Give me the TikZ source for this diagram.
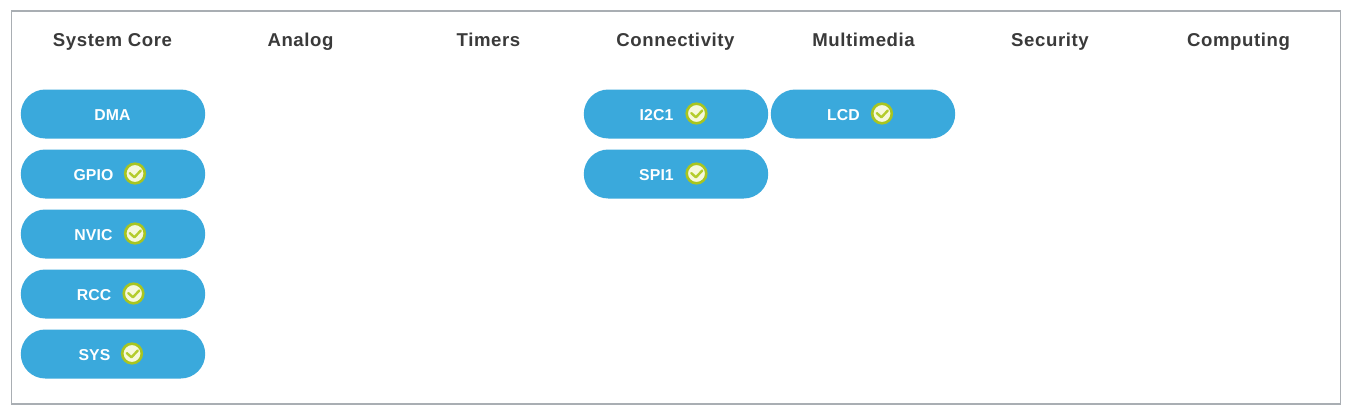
\documentclass[tikz,border=0pt]{standalone}
\usepackage{fontspec}
\setmainfont{Liberation Sans}
\usetikzlibrary{shapes.misc}
\definecolor{pillblue}{HTML}{3AA9DC}
\definecolor{framegray}{HTML}{A9AEB3}
\definecolor{headink}{HTML}{3A3A3A}
\definecolor{ringgreen}{HTML}{A8C520}
\definecolor{okfill}{HTML}{F6F8DC}
\definecolor{okcheck}{HTML}{B4CC2C}
\newfontfamily\headfont[LetterSpace=3.2]{Liberation Sans}
\newfontfamily\pillfont[LetterSpace=0.6]{Liberation Sans}
\tikzset{
  frameline/.style={draw=framegray,line width=1.3pt,fill=white,outer sep=0pt},
  head/.style={font=\headfont\fontsize{18.6}{20}\selectfont\bfseries,text=headink,inner sep=0pt,anchor=base},
  pill/.style={rounded rectangle,fill=pillblue,draw=none,minimum width=184.4pt,minimum height=49pt,inner sep=0pt,outer sep=0pt},
  pilltext/.style={font=\pillfont\fontsize{15.8}{18}\selectfont\bfseries,text=white,inner sep=0pt,anchor=base},
  okring/.style={circle,fill=okfill,draw=ringgreen,line width=2.6pt,minimum size=19.6pt,inner sep=0pt,outer sep=0pt},
  okmark/.style={draw=okcheck,line width=2.4pt,line cap=round,line join=round},
}
\newcommand{\okicon}[2]{%
  \node[okring] (#1) at (#2) {};
  \draw[okmark] ([shift={(-5.2pt,0.4pt)}]#1.center) -- ([shift={(-0.6pt,-3.8pt)}]#1.center) -- ([shift={(5.8pt,3pt)}]#1.center);
}
\begin{document}
\begin{tikzpicture}[x=1pt,y=-1pt]
\useasboundingbox (0,0) rectangle (1352,416);
\node[draw=none,fill=white,minimum width=1352pt,minimum height=416pt,inner sep=0pt,outer sep=0pt,anchor=north west] (page) at (0,0) {};
\node[frameline,minimum width=1329pt,minimum height=393pt,inner sep=0pt,anchor=north west] (frame) at (11.3,11) {};
\node[head] (h1) at (112.5,46.5) {System Core};
\node[head] (h2) at (300.5,46.5) {Analog};
\node[head] (h3) at (488.5,46.5) {Timers};
\node[head] (h4) at (675.5,46.5) {Connectivity};
\node[head] (h5) at (863.5,46.5) {Multimedia};
\node[head] (h6) at (1050,46.5) {Security};
\node[head] (h7) at (1238.5,46.5) {Computing};
\node[pill] (dma) at (113,114) {};
\node[pill] (gpio) at (113,174) {};
\node[pill] (nvic) at (113,234) {};
\node[pill] (rcc) at (113,294) {};
\node[pill] (sys) at (113,354) {};
\node[pill] (i2c) at (676,114) {};
\node[pill] (spi) at (676,174) {};
\node[pill] (lcd) at (863,114) {};
\node[pilltext] (tdma) at (112.5,120.5) {DMA};
\node[pilltext] (tgpio) at (93.5,180.5) {GPIO};
\node[pilltext] (tnvic) at (93.5,240.5) {NVIC};
\node[pilltext] (trcc) at (94,300.5) {RCC};
\node[pilltext] (tsys) at (94.5,360.5) {SYS};
\node[pilltext] (ti2c) at (656.5,120.5) {I2C1};
\node[pilltext] (tspi) at (656.5,180.5) {SPI1};
\node[pilltext] (tlcd) at (843.5,120.5) {LCD};
\okicon{kgpio}{135,173.5}
\okicon{knvic}{135,233.5}
\okicon{krcc}{133.5,293.5}
\okicon{ksys}{132,353.5}
\okicon{ki2c}{696.5,113.5}
\okicon{kspi}{696.5,173.5}
\okicon{klcd}{882,113.5}
\end{tikzpicture}
\end{document}
